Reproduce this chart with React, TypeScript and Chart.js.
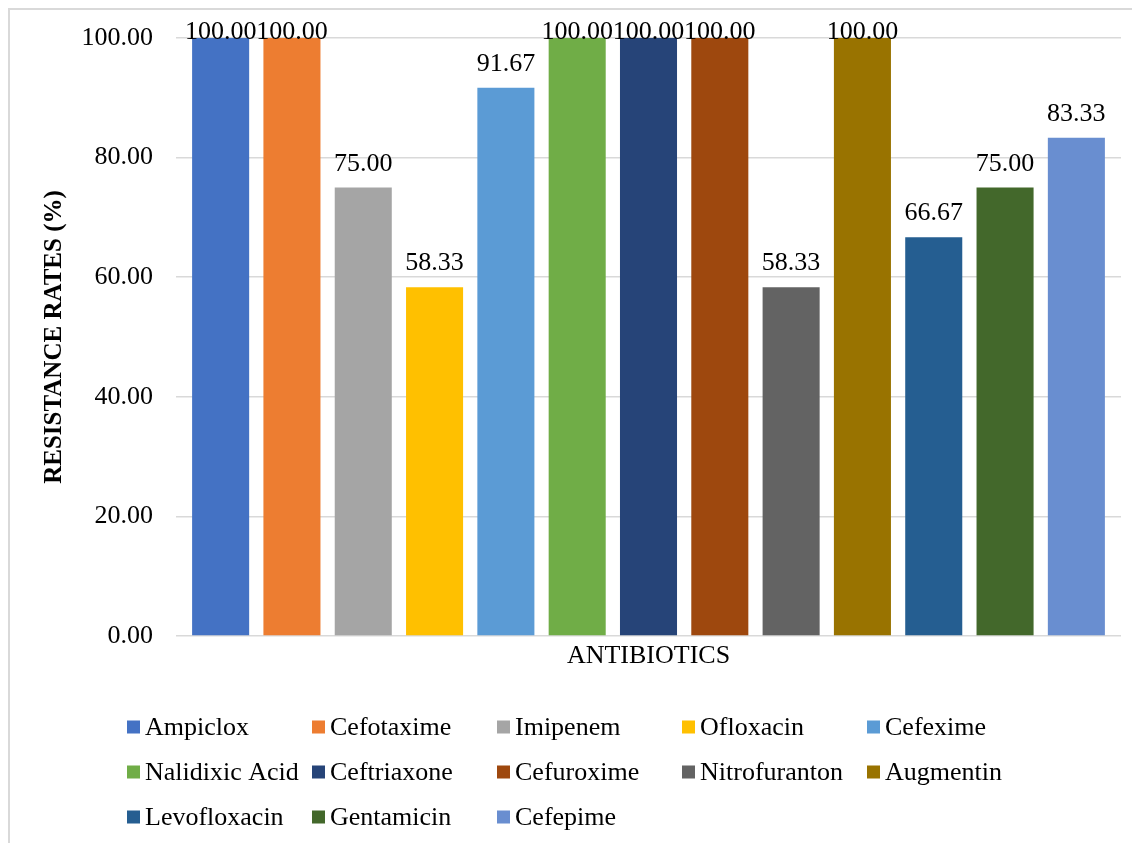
import React, { useEffect, useRef } from "react";
import { Chart, registerables } from "chart.js";

Chart.register(...registerables);

const FONT = "'Liberation Serif', 'Times New Roman', serif";

const categories = ["ANTIBIOTICS"];
const antibiotics = [
  "Ampiclox",
  "Cefotaxime",
  "Imipenem",
  "Ofloxacin",
  "Cefexime",
  "Nalidixic Acid",
  "Ceftriaxone",
  "Cefuroxime",
  "Nitrofuranton",
  "Augmentin",
  "Levofloxacin",
  "Gentamicin",
  "Cefepime",
];
const resistanceRates = [100, 100, 75, 58.33, 91.67, 100, 100, 100, 58.33, 100, 66.67, 75, 83.33];
const barColors = [
  "#4472C4",
  "#ED7D31",
  "#A5A5A5",
  "#FFC000",
  "#5B9BD5",
  "#70AD47",
  "#264478",
  "#9E480E",
  "#636363",
  "#997300",
  "#255E91",
  "#43682B",
  "#698ED0",
];
const yAxisTitle = "RESISTANCE RATES (%)";
const yMin = 0;
const yMax = 100;
const yStep = 20;

const CANVAS_W = 1132;
const CANVAS_H = 827;

const dataLabels = {
  id: "dataLabels",
  afterDatasetsDraw(chart: any) {
    const ctx = chart.ctx;
    ctx.save();
    ctx.font = `26px ${FONT}`;
    ctx.fillStyle = "#000";
    ctx.textAlign = "center";
    ctx.textBaseline = "alphabetic";
    chart.data.datasets.forEach((ds: any, i: number) => {
      const meta = chart.getDatasetMeta(i);
      const el = meta.data[0];
      if (!el) return;
      const v = ds.data[0];
      const y = Math.max(el.y - 17, chart.chartArea.top + 1);
      ctx.fillText(Number(v).toFixed(2), el.x, y);
    });
    ctx.restore();
  },
};

const gridLegend = {
  id: "gridLegend",
  afterDraw(chart: any) {
    const ctx = chart.ctx;
    const x0 = 119;
    const dx = 185;
    const y0 = 719;
    const dy = 45;
    const box = 13;
    ctx.save();
    ctx.font = `26px ${FONT}`;
    ctx.textAlign = "left";
    ctx.textBaseline = "middle";
    chart.data.datasets.forEach((ds: any, i: number) => {
      const col = i % 5;
      const row = Math.floor(i / 5);
      const x = x0 + col * dx;
      const y = y0 + row * dy;
      ctx.fillStyle = ds.backgroundColor;
      ctx.fillRect(x, y - box / 2, box, box);
      ctx.fillStyle = "#000";
      ctx.fillText(ds.label, x + 18, y + 1);
    });
    ctx.restore();
  },
};

export default function App() {
  const canvasRef = useRef<HTMLCanvasElement | null>(null);

  useEffect(() => {
    document.documentElement.style.overflow = "hidden";
    if (!canvasRef.current) return;
    const chart = new Chart(canvasRef.current, {
      type: "bar",
      data: {
        labels: categories,
        datasets: antibiotics.map((name, i) => ({
          label: name,
          data: [resistanceRates[i]],
          backgroundColor: barColors[i],
          borderWidth: 0,
          categoryPercentage: 0.981,
          barPercentage: 0.8,
        })),
      },
      options: {
        responsive: false,
        animation: false,
        layout: { padding: { left: 0, top: 30, right: 19, bottom: CANVAS_H - 628 - 40 } },
        plugins: {
          legend: { display: false },
          tooltip: { enabled: false },
        },
        scales: {
          x: {
            grid: { display: false, drawTicks: false },
            border: { display: false },
            ticks: { font: { family: FONT, size: 26 }, color: "#000", padding: 5 },
            afterFit(s: any) {
              s.height = 40;
            },
          },
          y: {
            min: yMin,
            max: yMax,
            ticks: {
              stepSize: yStep,
              callback: (v: any) => Number(v).toFixed(2),
              font: { family: FONT, size: 26 },
              color: "#000",
              padding: 7,
            },
            grid: {
              color: "#d9d9d9",
              lineWidth: 1.5,
              drawTicks: true,
              tickLength: 16,
              tickColor: "rgba(0,0,0,0)",
            },
            border: { display: false },
            title: {
              display: true,
              text: yAxisTitle,
              font: { family: FONT, size: 25, weight: "bold" },
              color: "#000",
              padding: { top: 32, bottom: 0 },
            },
            afterFit(s: any) {
              s.width = 168;
            },
          },
        },
      },
      plugins: [dataLabels, gridLegend],
    });
    return () => chart.destroy();
  }, []);

  return (
    <div style={{ position: "relative", width: CANVAS_W, height: 860, overflow: "hidden" }}>
      <div
        style={{
          position: "absolute",
          left: 0,
          top: 0,
          width: 1400,
          height: 1200,
          border: "2px solid #d9d9d9",
          boxSizing: "border-box",
        }}
      />
      <canvas
        ref={canvasRef}
        width={CANVAS_W}
        height={CANVAS_H}
        style={{ position: "absolute", left: 0, top: 0, width: CANVAS_W, height: CANVAS_H }}
      />
    </div>
  );
}
